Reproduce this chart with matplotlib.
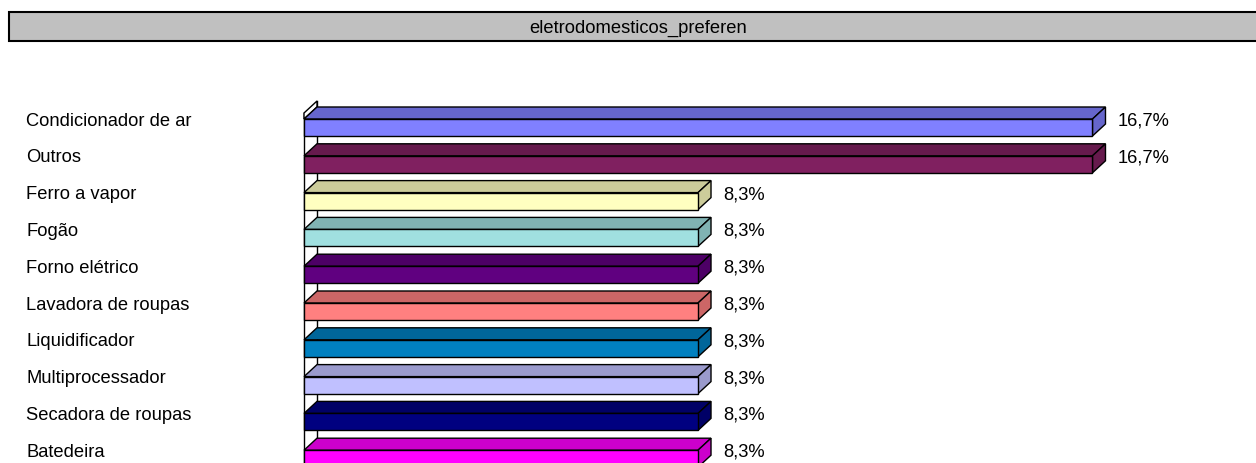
import matplotlib
matplotlib.use('Agg')
from matplotlib import pyplot as plt
from matplotlib.patches import Rectangle, Polygon
import matplotlib.transforms as mtransforms
import matplotlib.colors as mcolors

plt.rcParams['font.family'] = ['Liberation Sans', 'DejaVu Sans']

# dados do grafico
titulo = 'eletrodomesticos_preferen'
categorias = ['Condicionador de ar', 'Outros', 'Ferro a vapor', 'Fogão', 'Forno elétrico',
              'Lavadora de roupas', 'Liquidificador', 'Multiprocessador',
              'Secadora de roupas', 'Batedeira']
valores = [16.67, 16.67, 8.33, 8.33, 8.33, 8.33, 8.33, 8.33, 8.33, 8.33]
rotulos = ['16,7%', '16,7%', '8,3%', '8,3%', '8,3%', '8,3%', '8,3%', '8,3%', '8,3%', '8,3%']
cores = ['#8080FF', '#802060', '#FFFFC0', '#A0E0E0', '#600080',
         '#FF8080', '#0080C0', '#C0C0FF', '#000080', '#FF00FF']

W, H = 1256, 464
px_x = 47.3      # pixels por ponto percentual
px_y = 36.8      # pixels por categoria
x0_px = 304      # origem do eixo
y0_px = 128.5    # centro da primeira barra

fig = plt.figure(figsize=(W / 100, H / 100), dpi=100)
ax = fig.add_axes([0, 0, 1, 1])
ax.set_xlim(-x0_px / px_x, (W - x0_px) / px_x)
ax.set_ylim((H - y0_px) / px_y, -y0_px / px_y)
ax.axis('off')

h = 17 / px_y    # altura da face frontal
dx = 13 / px_x   # profundidade 3D
dy = 12 / px_y
esp = 6 / px_y   # espessura do topo da parede

def escurecer(c, f=0.8):
    r, g, b = mcolors.to_rgb(c)
    return (r * f, g * f, b * f)

# parede do eixo de categorias
topo = -h / 2
ax.plot([0, 0], [topo - esp, len(categorias) + 1], color='black', lw=1, zorder=1)
ax.plot([dx, dx], [topo - esp - dy, len(categorias) + 1], color='black', lw=1, zorder=1)
ax.add_patch(Polygon([(0, topo), (0, topo - esp), (dx, topo - esp - dy), (dx, topo - dy)],
                     closed=True, facecolor='white', edgecolor='black', lw=1, zorder=2))

for i, (v, c) in enumerate(zip(valores, cores)):
    y_top = i - h / 2
    y_bot = i + h / 2
    escuro = escurecer(c)
    # face superior
    ax.add_patch(Polygon([(0, y_top), (dx, y_top - dy), (v + dx, y_top - dy), (v, y_top)],
                         closed=True, facecolor=escuro, edgecolor='black', lw=1, zorder=3))
    # face lateral
    ax.add_patch(Polygon([(v, y_top), (v + dx, y_top - dy), (v + dx, y_bot - dy), (v, y_bot)],
                         closed=True, facecolor=escuro, edgecolor='black', lw=1, zorder=3))
    # face frontal
    ax.add_patch(Rectangle((0, y_top), v, h, facecolor=c, edgecolor='black', lw=1, zorder=4))
    ax.text(v + 0.53, i - 0.08, rotulos[i], fontsize=13.2, ha='left', va='baseline', zorder=5)

trans = mtransforms.blended_transform_factory(ax.transAxes, ax.transData)
for i, cat in enumerate(categorias):
    ax.text(26 / W, i - 0.08, cat, fontsize=13.2, ha='left', va='baseline', transform=trans)

# barra do titulo
fig.patches.append(Rectangle((8 / W, 1 - 43 / H), 1.1, 31 / H, transform=fig.transFigure,
                             facecolor='#808080', edgecolor='none', zorder=0))
fig.patches.append(Rectangle((8.5 / W, 1 - 41.5 / H), 1.1, 29 / H, transform=fig.transFigure,
                             facecolor='#C0C0C0', edgecolor='black', lw=1.5, zorder=1))
fig.text(638 / W, 1 - 28 / H, titulo, fontsize=13.2, ha='center', va='center')

fig.savefig('out.png', dpi=100)
